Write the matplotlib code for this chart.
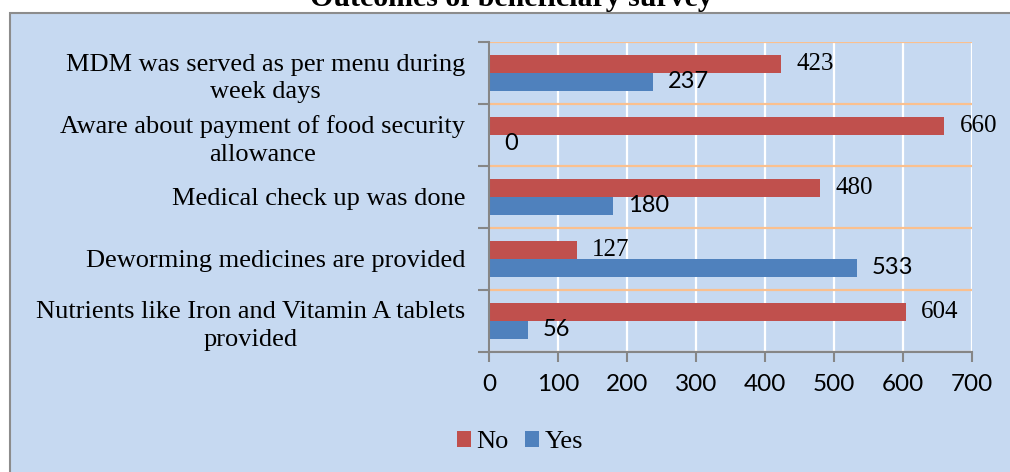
import numpy as np
import matplotlib
matplotlib.use("Agg")
import matplotlib.pyplot as plt
from matplotlib.patches import Rectangle

# Survey data (top to bottom as in chart)
categories = [
    "MDM was served as per menu during\nweek days",
    "Aware about payment of food security\nallowance",
    "Medical check up was done",
    "Deworming medicines are provided",
    "Nutrients like Iron and Vitamin A tablets\nprovided",
]
no_vals = [423, 660, 480, 127, 604]
yes_vals = [237, 0, 180, 533, 56]
x_ticks = [0, 100, 200, 300, 400, 500, 600, 700]

red = "#C0504D"
blue = "#4F81BD"
bg = "#C6D9F1"
serif = "Liberation Serif"
sans = "Lato"

fig = plt.figure(figsize=(10.1, 4.72), dpi=100, facecolor="white")

# chart area frame (clipped on right and bottom like the source)
frame = Rectangle((10 / 1010, -0.1), 1.2, (1 - 13 / 472) + 0.1,
                  transform=fig.transFigure, facecolor=bg,
                  edgecolor="#8C8C8C", linewidth=1.5, zorder=-5)
fig.add_artist(frame)

ax = fig.add_axes([489 / 1010, 1 - 352 / 472, (972 - 489) / 1010, (352 - 42) / 472])
ax.set_facecolor("none")

y = np.arange(len(categories))
h = 0.29
ax.barh(y - h / 2, no_vals, height=h, color=red, label="No", zorder=3)
ax.barh(y + h / 2, yes_vals, height=h, color=blue, label="Yes", zorder=3)

for i in range(len(categories)):
    ax.annotate(str(no_vals[i]), (no_vals[i], y[i] - h / 2), xytext=(11, 0),
                textcoords="offset points", va="center", ha="left",
                fontsize=18, family=serif)
    ax.annotate(str(yes_vals[i]), (yes_vals[i], y[i] + h / 2), xytext=(11, 0),
                textcoords="offset points", va="center", ha="left",
                fontsize=17, family=sans)

ax.set_xlim(0, 700)
ax.set_ylim(len(categories) - 0.5, -0.5)
ax.set_xticks(x_ticks)
ax.set_xticklabels([str(t) for t in x_ticks], family=sans, fontsize=17.5)

# category boundaries as major ticks, labels on minor ticks
ax.set_yticks(np.arange(-0.5, len(categories), 1.0))
ax.set_yticklabels([])
ax.set_yticks(y, minor=True)
ax.set_yticklabels(categories, minor=True, family=serif, fontsize=19,
                   multialignment="center", linespacing=1.35)
ax.tick_params(axis="y", which="major", length=8, width=1.5, color="#868686")
ax.tick_params(axis="y", which="minor", length=0, pad=17)
ax.tick_params(axis="x", length=7, width=1.5, color="#868686", pad=9)

ax.grid(axis="x", color="white", linewidth=1.6, zorder=1)
ax.grid(axis="y", which="major", color="#FAC08F", linewidth=1.6, zorder=1)
ax.set_axisbelow(True)

for s in ["top", "right"]:
    ax.spines[s].set_visible(False)
for s in ["left", "bottom"]:
    ax.spines[s].set_color("#868686")
    ax.spines[s].set_linewidth(1.5)
    ax.spines[s].set_zorder(4)

fig.text(511 / 1010, 1 - 6 / 472, "Outcomes of beneficiary survey",
         ha="center", va="baseline", fontsize=21.5, fontweight="bold", family=serif)

fig.legend(loc="center", bbox_to_anchor=(520 / 1010, 1 - 442 / 472), ncol=2,
           frameon=False, prop={"family": serif, "size": 19},
           handlelength=0.55, handleheight=0.55, handletextpad=0.2, columnspacing=0.6)

fig.savefig("out.png", dpi=100, facecolor="white")
